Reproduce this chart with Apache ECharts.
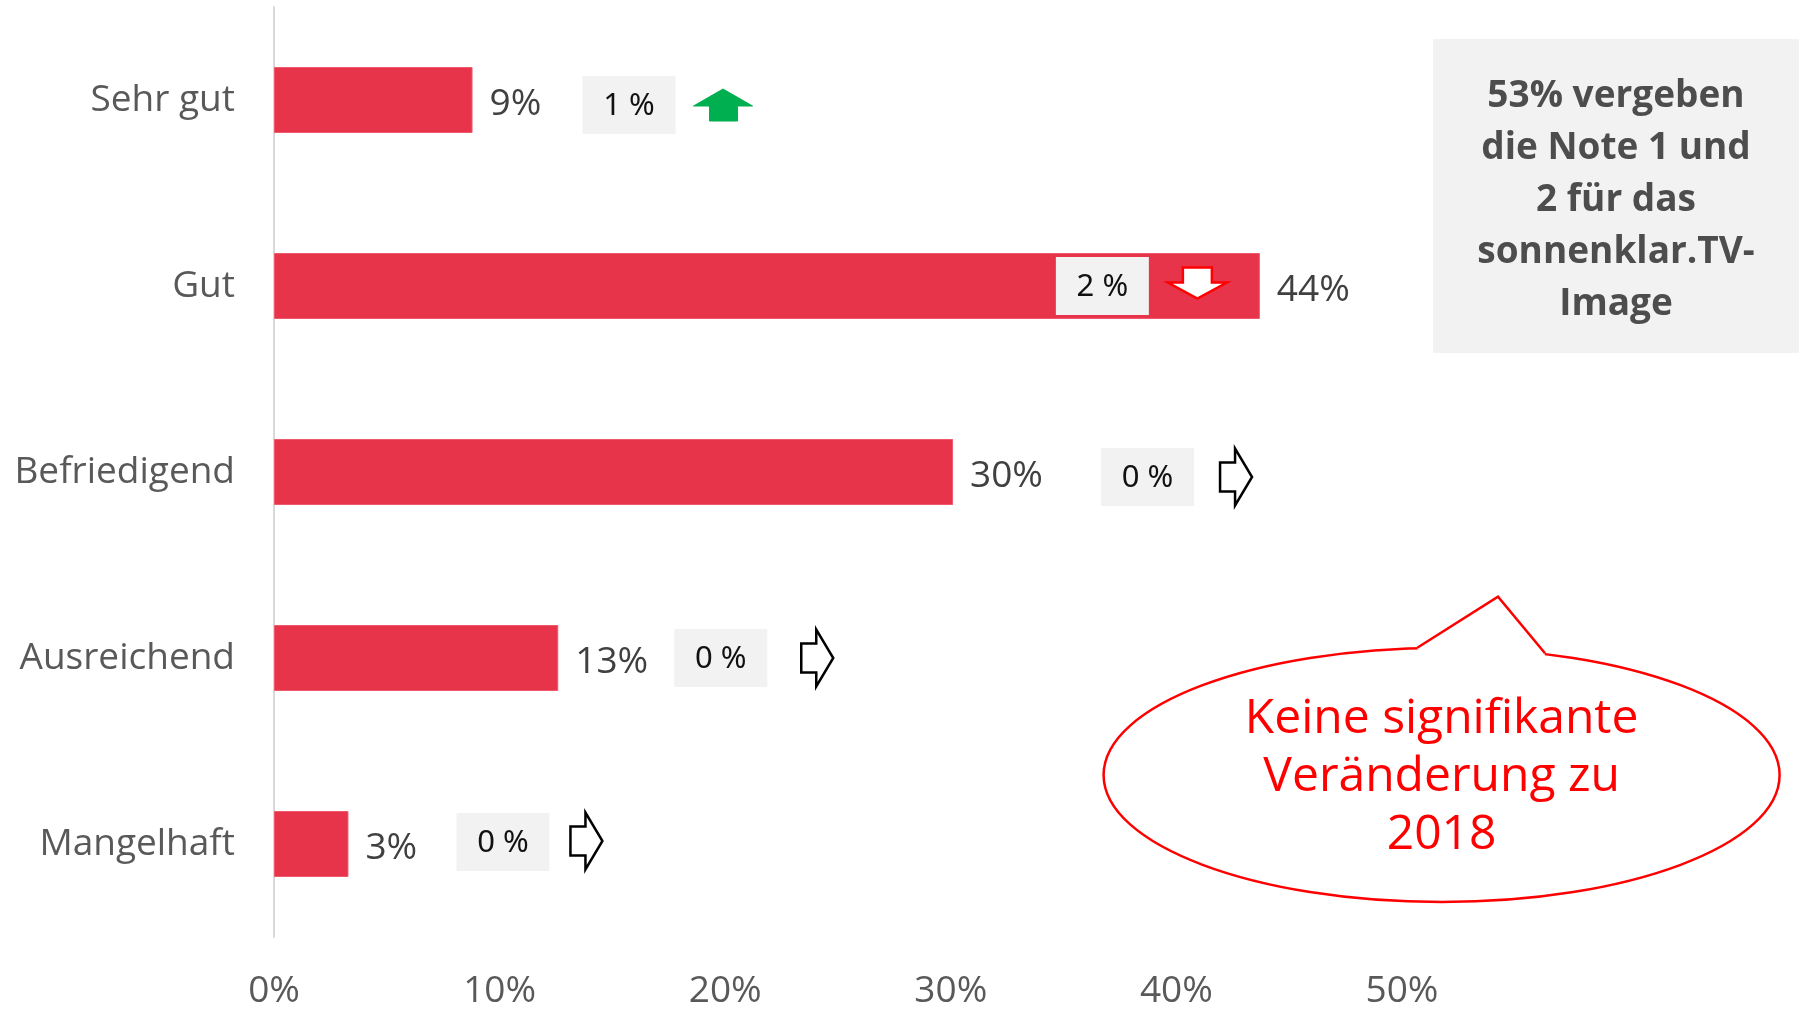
<!DOCTYPE html>
<html><head><meta charset="utf-8">
<script src="https://cdn.jsdelivr.net/npm/echarts@6/dist/echarts.min.js"></script>
<style>html,body{margin:0;padding:0;background:#fff}#c{width:1799px;height:1010px}</style>
</head><body><div id="c"></div>
<script>
// ---- data ----
const categories = ['Sehr gut', 'Gut', 'Befriedigend', 'Ausreichend', 'Mangelhaft'];
const shares = [8.8, 43.7, 30.1, 12.6, 3.3];
const shareLabels = ['9%', '44%', '30%', '13%', '3%'];
const changeLabels = ['1 %', '2 %', '0 %', '0 %', '0 %'];
const changeDirections = ['up', 'down', 'right', 'right', 'right'];
const xTicks = [0, 10, 20, 30, 40, 50];
const noteLines = ['53% vergeben', 'die Note 1 und', '2 für das', 'sonnenklar.TV-', 'Image'];
const bubbleLines = ['Keine signifikante', 'Veränderung zu', '2018'];

// ---- annotation layout (pixels, relative to bar end) ----
const BOX_OFFSET = [110, -204, 148, 116, 108];
const BOX_DY = [5, 0, 5, 0, -2];
const ARROW_GAP = [18, 19, 26, 34, 21];
const ARROW_DY = [5, -3, 5, 0, -3];

const FONT = '"Open Sans", "Noto Sans", sans-serif';

function arrowShape(dir, x, cy) {
  if (dir === 'up') {
    const t = cy - 16;
    return { pts: [[x + 29.5, t], [x + 59, t + 17], [x + 44, t + 17], [x + 44, t + 32], [x + 16, t + 32], [x + 16, t + 17], [x, t + 17]],
             style: { fill: '#00B050', stroke: '#00B050', lineWidth: 1 } };
  }
  if (dir === 'down') {
    const t = cy - 15.5;
    return { pts: [[x + 15, t], [x + 44, t], [x + 44, t + 15], [x + 59, t + 15], [x + 29.5, t + 31], [x, t + 15], [x + 15, t + 15]],
             style: { fill: '#ffffff', stroke: '#FF0000', lineWidth: 2.5 } };
  }
  const t = cy - 28.5;
  return { pts: [[x, t + 14], [x + 15, t + 14], [x + 15, t], [x + 32, t + 28.5], [x + 15, t + 57], [x + 15, t + 43], [x, t + 43]],
           style: { fill: '#ffffff', stroke: '#000000', lineWidth: 2.5 } };
}

function renderChange(params, api) {
  const i = params.dataIndex;
  const end = api.coord([api.value(0), i]);
  const bw = 93, bh = 58;
  const bx = end[0] + BOX_OFFSET[i];
  const cy = end[1] + BOX_DY[i];
  const ax = bx + bw + ARROW_GAP[i];
  const a = arrowShape(changeDirections[i], ax, end[1] + ARROW_DY[i]);
  return {
    type: 'group',
    children: [
      { type: 'rect', shape: { x: bx, y: cy - bh / 2, width: bw, height: bh }, style: { fill: '#f2f2f2' } },
      { type: 'text', style: { text: changeLabels[i], x: bx + bw / 2, y: cy + 1,
          align: 'center', verticalAlign: 'middle', textAlign: 'center', textVerticalAlign: 'middle',
          fontSize: 31, fontFamily: '"Noto Sans", sans-serif', fill: '#111111' } },
      { type: 'polygon', shape: { points: a.pts }, style: a.style }
    ]
  };
}

const chart = echarts.init(document.getElementById('c'), null, { renderer: 'canvas' });

const bubble = { cx: 1441.6, cy: 775, rx: 338, ry: 127 };
const tail = [[1417.3, 647.7], [1498, 596.7], [1545, 653.3]];

chart.setOption({
  animation: false,
  backgroundColor: '#ffffff',
  grid: { left: 274, top: 7, width: 1128, height: 930, containLabel: false },
  xAxis: {
    type: 'value', min: xTicks[0], max: xTicks[xTicks.length - 1], interval: xTicks[1] - xTicks[0],
    axisLine: { show: false }, axisTick: { show: false }, splitLine: { show: false },
    axisLabel: { formatter: '{value}%', fontSize: 37, color: '#595959', fontFamily: FONT, margin: 36 }
  },
  yAxis: {
    type: 'category', data: categories, inverse: true,
    axisLine: { show: true, lineStyle: { color: '#d9d9d9', width: 2 } },
    axisTick: { show: false },
    axisLabel: { fontSize: 37, color: '#595959', fontFamily: FONT, margin: 39, padding: [2, 0, 0, 0] }
  },
  series: [
    {
      type: 'bar', data: shares, barWidth: 66,
      itemStyle: { color: '#E8344A', borderColor: '#ee5a6c', borderWidth: 1 },
      label: { show: true, position: 'right', distance: 17, offset: [0, 4],
               formatter: (p) => shareLabels[p.dataIndex],
               fontSize: 37, color: '#404040', fontFamily: FONT }
    },
    {
      type: 'custom', renderItem: renderChange, z: 5, clip: false,
      encode: { x: 0, y: 1 },
      data: shares.map((v, i) => [v, i])
    }
  ],
  graphic: [
    { type: 'rect', shape: { x: 1433, y: 39, width: 366, height: 314 }, style: { fill: '#f2f2f2' }, z: 1 },
    { type: 'text', x: 1616, y: 200, z: 2,
      style: { text: noteLines.join('\n'), align: 'center', verticalAlign: 'middle',
               textAlign: 'center', textVerticalAlign: 'middle',
               font: 'bold 37px "Open Sans", sans-serif', lineHeight: 52, fill: '#4d4d4d' } },
    { type: 'ellipse', shape: bubble, style: { fill: '#ffffff', stroke: '#FF0000', lineWidth: 2.5 }, z: 1 },
    { type: 'polygon', shape: { points: [tail[0], tail[1], tail[2], [1543, 661], [1419, 655]] },
      style: { fill: '#ffffff', stroke: null }, z: 2 },
    { type: 'polyline', shape: { points: tail }, style: { stroke: '#FF0000', lineWidth: 2.5, fill: null }, z: 3 },
    { type: 'text', x: bubble.cx, y: bubble.cy + 2, z: 4,
      style: { text: bubbleLines.join('\n'), align: 'center', verticalAlign: 'middle',
               textAlign: 'center', textVerticalAlign: 'middle',
               font: '48px "Open Sans", sans-serif', lineHeight: 58, fill: '#FF0000' } }
  ]
});
</script>
</body></html>
